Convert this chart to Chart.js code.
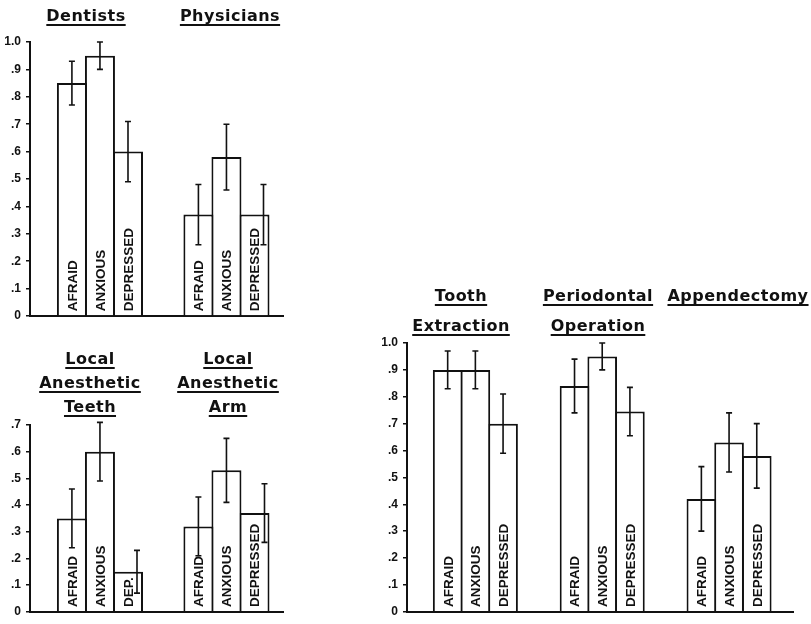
<!DOCTYPE html>
<html>
<head>
<meta charset="utf-8">
<script src="https://cdn.jsdelivr.net/npm/chart.js@4/dist/chart.umd.min.js"></script>
<style>
  body { margin: 0; background: #fff; }
  #wrap { position: relative; width: 811px; height: 624px; overflow: hidden; }
  canvas { position: absolute; }
  .ttl {
    position: absolute;
    transform: translateX(-50%);
    font-family: "DejaVu Sans", sans-serif;
    font-weight: bold;
    font-size: 16px;
    letter-spacing: 0.5px;
    line-height: 24px;
    text-align: center;
    white-space: nowrap;
    color: #111;
  }
  .ttl span {
    text-decoration: underline;
    text-decoration-thickness: 2px;
    text-underline-offset: 3px;
  }
</style>
</head>
<body>
<div id="wrap">
  <canvas id="chartA" width="300" height="330" style="left:0;top:0"></canvas>
  <canvas id="chartB" width="300" height="224" style="left:0;top:400px"></canvas>
  <canvas id="chartC" width="431" height="324" style="left:380px;top:300px"></canvas>

  <div class="ttl" style="left:86px;top:4px"><span>Dentists</span></div>
  <div class="ttl" style="left:230px;top:4px"><span>Physicians</span></div>

  <div class="ttl" style="left:90px;top:347px"><span>Local</span><br><span>Anesthetic</span><br><span>Teeth</span></div>
  <div class="ttl" style="left:228px;top:347px"><span>Local</span><br><span>Anesthetic</span><br><span>Arm</span></div>

  <div class="ttl" style="left:461px;top:281px;line-height:30px"><span>Tooth</span><br><span>Extraction</span></div>
  <div class="ttl" style="left:598px;top:281px;line-height:30px"><span>Periodontal</span><br><span>Operation</span></div>
  <div class="ttl" style="left:738px;top:281px;line-height:30px"><span>Appendectomy</span></div>
</div>

<script>
// bar labels
const emotions = ["AFRAID", "ANXIOUS", "DEPRESSED"];

// top left: Dentists / Physicians
const groupsA = ["Dentists", "Physicians"];
const afraidA = [0.85, 0.37];
const anxiousA = [0.95, 0.58];
const depressedA = [0.60, 0.37];
const afraidErrA = [0.08, 0.11];
const anxiousErrA = [0.05, 0.12];
const depressedErrA = [0.11, 0.11];
const yTicksA = ["0", ".1", ".2", ".3", ".4", ".5", ".6", ".7", ".8", ".9", "1.0"];

// bottom left: local anesthetic
const groupsB = ["Local Anesthetic Teeth", "Local Anesthetic Arm"];
const afraidB = [0.35, 0.32];
const anxiousB = [0.60, 0.53];
const depressedB = [0.15, 0.37];
const afraidErrB = [0.11, 0.11];
const anxiousErrB = [0.11, 0.12];
const depressedErrB = [0.08, 0.11];
const depressedTextB = ["DEP.", "DEPRESSED"];
const yTicksB = ["0", ".1", ".2", ".3", ".4", ".5", ".6", ".7"];

// right: procedures
const groupsC = ["Tooth Extraction", "Periodontal Operation", "Appendectomy"];
const afraidC = [0.90, 0.84, 0.42];
const anxiousC = [0.90, 0.95, 0.63];
const depressedC = [0.70, 0.745, 0.58];
const afraidErrC = [0.07, 0.10, 0.12];
const anxiousErrC = [0.07, 0.05, 0.11];
const depressedErrC = [0.11, 0.09, 0.12];
const yTicksC = yTicksA;

// draws the text inside each bar and the error bars
const barExtras = {
  id: "barExtras",
  afterDatasetsDraw(chart) {
    const ctx = chart.ctx;
    const y = chart.scales.y;
    chart.data.datasets.forEach((ds, k) => {
      const meta = chart.getDatasetMeta(k);
      meta.data.forEach((bar, i) => {
        // rotated label
        ctx.save();
        ctx.fillStyle = "#111";
        ctx.font = 'bold 13.5px "Liberation Sans"';
        ctx.translate(bar.x, bar.base - 4);
        ctx.rotate(-Math.PI / 2);
        ctx.textAlign = "left";
        ctx.textBaseline = "alphabetic";
        ctx.fillText(ds.barText[i], 0, 4.9);
        ctx.restore();

        // error bar
        const v = ds.data[i].y;
        const e = ds.err[i];
        const ex = bar.x + (ds.errShift ? ds.errShift[i] : 0);
        const top = y.getPixelForValue(v + e);
        const bot = y.getPixelForValue(v - e);
        ctx.save();
        ctx.strokeStyle = "#111";
        ctx.lineWidth = 1.6;
        ctx.beginPath();
        ctx.moveTo(ex, top); ctx.lineTo(ex, bot);
        ctx.moveTo(ex - 3, top); ctx.lineTo(ex + 3, top);
        ctx.moveTo(ex - 3, bot); ctx.lineTo(ex + 3, bot);
        ctx.stroke();
        ctx.restore();
      });
    });
  }
};

function makeChart(id, groups, series, errs, texts, shifts, yTicks, yMax, xMin, xMax, groupPct, yWidth, pad) {
  const datasets = series.map((vals, k) => ({
    label: emotions[k],
    data: vals.map((v, i) => ({ x: i + 1, y: v })),
    err: errs[k],
    barText: texts[k],
    errShift: shifts[k],
    backgroundColor: "#fff",
    borderColor: "#111",
    borderWidth: { top: 2, left: 2, right: 2, bottom: 0 },
    borderSkipped: false,
    inflateAmount: 0,
    categoryPercentage: groupPct,
    // slightly wider than the slot so neighbours share one edge line
    barPercentage: 1.07
  }));

  return new Chart(document.getElementById(id), {
    type: "bar",
    data: { datasets },
    options: {
      responsive: false,
      animation: false,
      devicePixelRatio: 1,
      layout: { padding: pad },
      plugins: { legend: { display: false }, tooltip: { enabled: false } },
      scales: {
        x: {
          type: "linear",
          min: xMin,
          max: xMax,
          offset: false,
          grid: { display: false },
          ticks: { display: false },
          border: { display: true, color: "#111", width: 2 },
          // no hidden ticks, so bar width comes from the group spacing only
          afterBuildTicks: s => { s.ticks = []; },
          afterFit: s => { s.height = 0; }
        },
        y: {
          min: 0,
          max: yMax,
          ticks: {
            stepSize: 0.1,
            color: "#111",
            padding: 5,
            font: { family: "Liberation Sans", weight: "bold", size: 12 },
            callback: (val, i) => yTicks[i]
          },
          grid: { drawOnChartArea: false, drawTicks: true, tickLength: 4, color: "#111", lineWidth: 1.5 },
          border: { display: true, color: "#111", width: 2 },
          afterFit: s => { s.width = yWidth; }
        }
      }
    },
    plugins: [barExtras]
  });
}

makeChart("chartA", groupsA,
  [afraidA, anxiousA, depressedA],
  [afraidErrA, anxiousErrA, depressedErrA],
  emotions.map(t => groupsA.map(() => t)),
  [null, null, [0, 9]],
  yTicksA, 1.0, 0.447, 2.447, 0.665, 30,
  { top: 42, right: 17, bottom: 14, left: 0 });

makeChart("chartB", groupsB,
  [afraidB, anxiousB, depressedB],
  [afraidErrB, anxiousErrB, depressedErrB],
  [groupsB.map(() => emotions[0]), groupsB.map(() => emotions[1]), depressedTextB],
  [null, null, [9, 10]],
  yTicksB, 0.7, 0.447, 2.447, 0.665, 30,
  { top: 25, right: 17, bottom: 7, left: 0 });

makeChart("chartC", groupsC,
  [afraidC, anxiousC, depressedC],
  [afraidErrC, anxiousErrC, depressedErrC],
  emotions.map(t => groupsC.map(() => t)),
  [null, null, null],
  yTicksC, 1.0, 0.461, 3.504, 0.655, 27,
  { top: 43, right: 18, bottom: 9, left: 0 });
</script>
</body>
</html>
